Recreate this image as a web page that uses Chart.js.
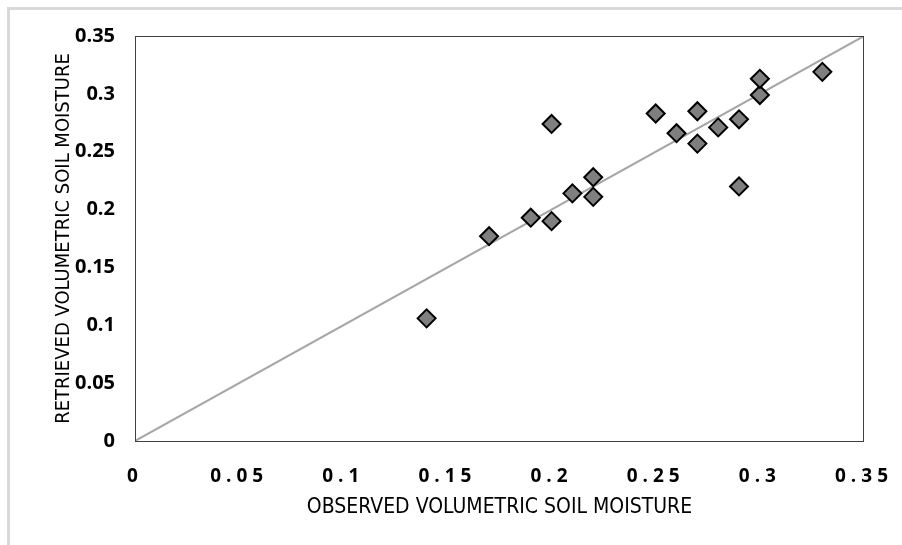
<!DOCTYPE html>
<html>
<head>
<meta charset="utf-8">
<script src="https://cdn.jsdelivr.net/npm/chart.js@4.4.1/dist/chart.umd.min.js"></script>
<style>
    html, body { margin: 0; padding: 0; background: #fff; }
    #wrap { position: relative; width: 902px; height: 545px; overflow: hidden; }
    #frame { position: absolute; left: 7px; top: 7px; width: 1000px; height: 1000px;
             border-top: 3px solid #d9d9d9; border-left: 3px solid #d9d9d9; }
    #chart { position: absolute; left: 0; top: 0; }
</style>
</head>
<body>
<div id="wrap">
    <div id="frame"></div>
    <canvas id="chart" width="902" height="545"></canvas>
</div>
<script>
// observed vs retrieved soil moisture
const observed = [0.14, 0.17, 0.19, 0.20, 0.20, 0.21, 0.22, 0.22, 0.25, 0.26, 0.27, 0.27, 0.28, 0.29, 0.29, 0.30, 0.30, 0.33];
const retrieved = [0.106, 0.177, 0.193, 0.274, 0.190, 0.214, 0.228, 0.211, 0.283, 0.266, 0.285, 0.257, 0.271, 0.278, 0.220, 0.299, 0.313, 0.319];

// 1:1 line
const lineX = [0, 0.35];
const lineY = [0, 0.35];

const xTickLabels = ['0', '0.05', '0.1', '0.15', '0.2', '0.25', '0.3', '0.35'];
const yTickLabels = ['0', '0.05', '0.1', '0.15', '0.2', '0.25', '0.3', '0.35'];

const xTitle = 'OBSERVED VOLUMETRIC SOIL MOISTURE';
const yTitle = 'RETRIEVED VOLUMETRIC SOIL MOISTURE';

const titleFont = "'Liberation Sans Narrow', 'DejaVu Sans Condensed', sans-serif";
const tickFont = "'Open Sans', sans-serif";

// box around the plot area
const plotBox = {
    id: 'plotBox',
    afterDraw(chart) {
        const { ctx, chartArea: a } = chart;
        ctx.save();
        ctx.strokeStyle = '#404040';
        ctx.lineWidth = 1;
        ctx.strokeRect(a.left + 0.5, a.top + 0.5, a.right - a.left - 1, a.bottom - a.top);
        ctx.restore();
    }
};

// spaced-out labels on the x axis
const spacedTicks = {
    id: 'spacedTicks',
    afterLayout(chart) {
        const sc = chart.scales.x;
        if (sc._spaced) return;
        const orig = sc.drawLabels;
        sc.drawLabels = function (area) {
            chart.ctx.save();
            chart.ctx.letterSpacing = '5px';
            orig.call(this, area);
            chart.ctx.restore();
        };
        sc._spaced = true;
    }
};

new Chart(document.getElementById('chart'), {
    type: 'scatter',
    data: {
        datasets: [
            {
                label: 'points',
                data: observed.map((x, i) => ({ x: x, y: retrieved[i] })),
                pointStyle: 'rectRot',
                pointRadius: 9,
                pointHoverRadius: 9,
                backgroundColor: '#7f7f7f',
                borderColor: '#000',
                borderWidth: 2,
                order: 1,
            },
            {
                type: 'line',
                label: '1:1',
                data: lineX.map((x, i) => ({ x: x, y: lineY[i] })),
                borderColor: '#a6a6a6',
                borderWidth: 2,
                pointRadius: 0,
                fill: false,
                order: 2,
            },
        ],
    },
    options: {
        responsive: false,
        animation: false,
        layout: { padding: { left: 0, top: 36, right: 38, bottom: 0 } },
        plugins: {
            legend: { display: false },
            tooltip: { enabled: false },
        },
        scales: {
            x: {
                type: 'linear',
                min: 0,
                max: 0.35,
                afterFit: (s) => { s.height = 104; },
                grid: { display: false },
                border: { display: false },
                ticks: {
                    stepSize: 0.05,
                    padding: 16,
                    color: '#000',
                    font: { family: tickFont, size: 19, weight: 'bold' },
                    callback: (v, i) => xTickLabels[i],
                },
                title: {
                    display: true,
                    text: xTitle,
                    color: '#000',
                    padding: { top: 0, bottom: 25 },
                    font: { family: titleFont, size: 21 },
                },
            },
            y: {
                type: 'linear',
                min: 0,
                max: 0.35,
                afterFit: (s) => { s.width = 135; },
                grid: { display: false },
                border: { display: false },
                ticks: {
                    stepSize: 0.05,
                    padding: 12,
                    color: '#000',
                    font: { family: tickFont, size: 20, weight: 'bold' },
                    callback: (v, i) => yTickLabels[i],
                },
                title: {
                    display: true,
                    text: yTitle,
                    color: '#000',
                    padding: { top: 52, bottom: 0 },
                    font: { family: titleFont, size: 20 },
                },
            },
        },
    },
    plugins: [plotBox, spacedTicks],
});
</script>
</body>
</html>
